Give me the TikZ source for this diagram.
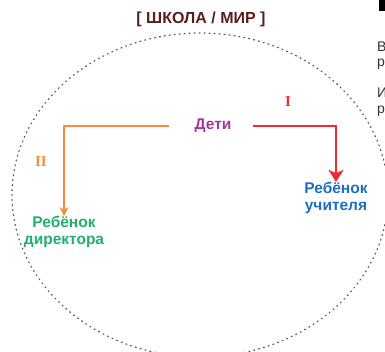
\documentclass[tikz,border=0pt]{standalone}
\usepackage{fontspec}
\setmainfont{Liberation Sans}
\newfontfamily\numfont{Liberation Serif}
\usetikzlibrary{arrows.meta}
\definecolor{titlecol}{HTML}{5A1E1E}
\definecolor{deticol}{HTML}{A3379B}
\definecolor{bluecol}{HTML}{1E6EC0}
\definecolor{greencol}{HTML}{1FB06C}
\definecolor{orangecol}{HTML}{F68C3A}
\definecolor{redcol}{HTML}{EE2A36}
\definecolor{dotcol}{HTML}{555555}
\definecolor{sidecol}{HTML}{333333}
\tikzset{
  lbl/.style={font=\bfseries\fontsize{15.5}{16.5}\selectfont, inner sep=0pt, align=center},
  numlbl/.style={font=\numfont\bfseries\fontsize{15}{15}\selectfont, inner sep=0pt},
  sidetxt/.style={font=\fontsize{14}{14}\selectfont, text=sidecol, inner sep=0pt, anchor=base west},
  orangearrow/.style={draw=orangecol, line width=1.4pt, -{Stealth[length=9pt,width=9pt]}},
  redarrow/.style={draw=redcol, line width=2.4pt, -{Stealth[length=12pt,width=15pt,inset=3pt]}},
  world/.style={draw=dotcol, line width=1.2pt, dash pattern=on 1pt off 4pt, line cap=round}
}
\begin{document}
\begin{tikzpicture}[x=1pt,y=-1pt]
\useasboundingbox (0,0) rectangle (385,351);
\clip (0,0) rectangle (385,351);
\draw[world] (200,195) ellipse [x radius=188, y radius=162];
\node[lbl, text=titlecol, font=\bfseries\fontsize{16}{16}\selectfont] (title) at (201,19) {[ ШКОЛА / МИР ]};
\node[lbl, text=deticol] (deti) at (213,126) {Дети};
\node[lbl, text=bluecol, anchor=north] (teacher) at (336,182) {Ребёнок\\учителя};
\node[lbl, text=greencol, anchor=north] (director) at (64,216) {Ребёнок\\директора};
\node[numlbl, text=redcol] (one) at (288,102) {I};
\node[numlbl, text=orangecol] (two) at (41,162) {II};
\draw[orangearrow] ([xshift=-25pt]deti.west) -| (director.north);
\draw[redarrow] ([xshift=21pt]deti.east) -| (teacher.north);
% fragments of the neighbouring column
\fill[black] (379,0) rectangle (385,11);
\node[sidetxt] (s1) at (377,51) {В};
\node[sidetxt] (s2) at (377,66) {р};
\node[sidetxt] (s3) at (377,97) {И};
\node[sidetxt] (s4) at (377,113) {р};
\end{tikzpicture}
\end{document}
